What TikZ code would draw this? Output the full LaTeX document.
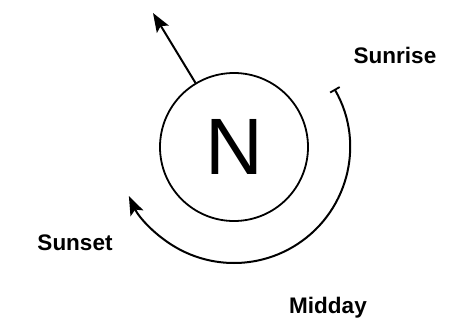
\documentclass[tikz,border=0pt]{standalone}
\usepackage{fontspec}
\setmainfont{Liberation Sans}
\usetikzlibrary{arrows.meta}
\begin{document}
\begin{tikzpicture}[x=1pt,y=-1pt,
  line/.style={line width=2pt},
  headtip/.tip={Stealth[length=19pt,width=14pt,inset=4pt]},
  lbl/.style={font=\bfseries\fontsize{22.5}{27}\selectfont, inner sep=0pt}]
\useasboundingbox (0,0) rectangle (469,330);
\node[circle, draw, line width=1.8pt, minimum size=148pt, inner sep=0pt,
      font=\fontsize{80}{90}\selectfont] (n) at (234,147) {N};
\coordinate (tip) at (153,13);
\draw[line, -headtip] (n.121) -- (tip);
\coordinate (c) at (234,147);
\draw[line, {Bar[width=11pt,line width=1.8pt]}-headtip]
  ([shift={(30:116pt)}]c) arc[start angle=30, end angle=-155, radius=116pt];
\node[lbl] (sunrise) at (395,55) {Sunrise};
\node[lbl] (sunset) at (75,243) {Sunset};
\node[lbl] (midday) at (328,308) {Midday};
\end{tikzpicture}
\end{document}
